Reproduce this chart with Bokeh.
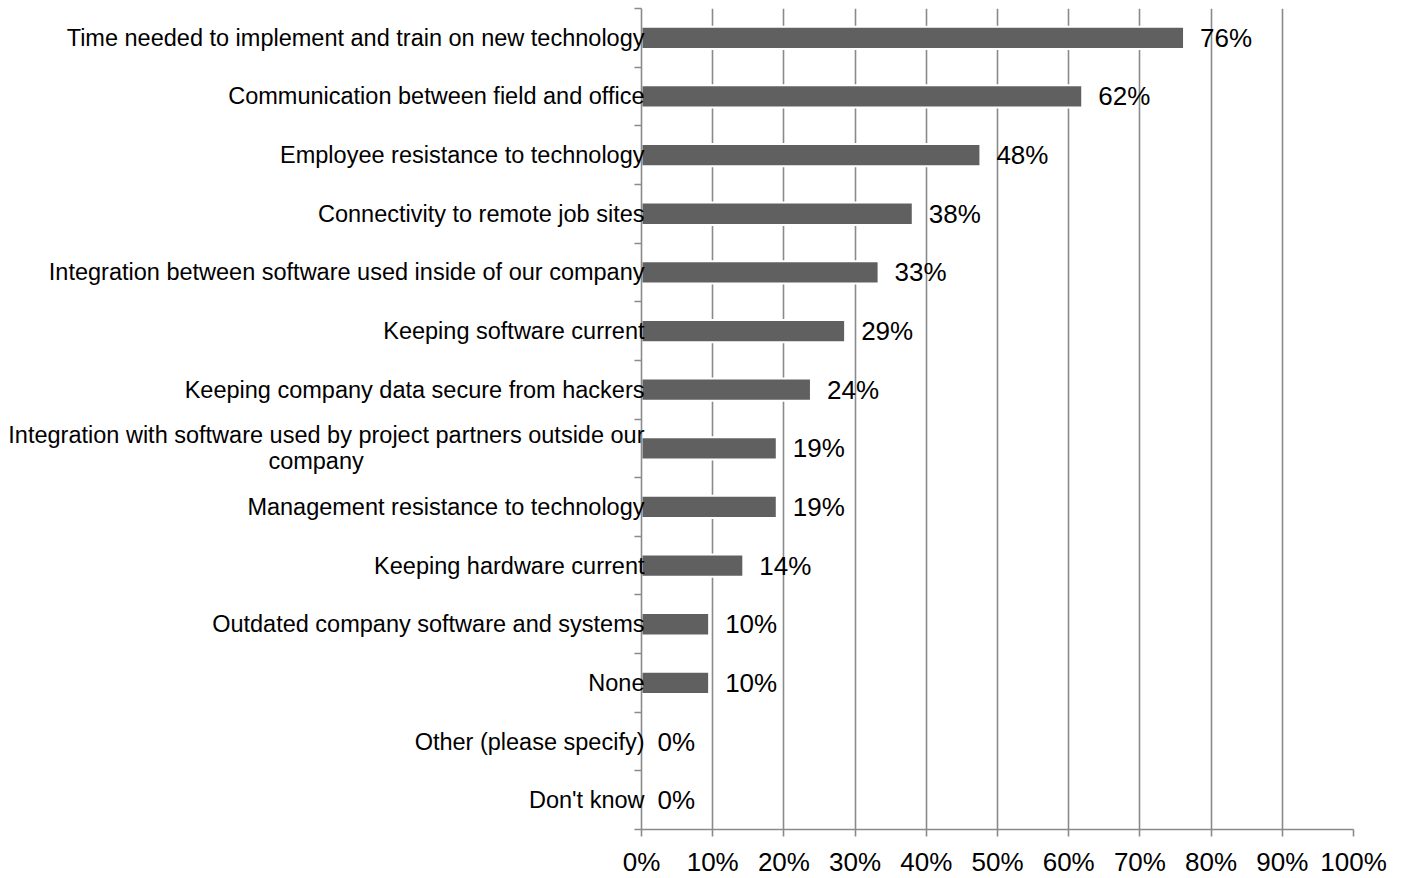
from bokeh.plotting import figure
from bokeh.models import ColumnDataSource, FixedTicker, PrintfTickFormatter, Range1d
from bokeh.core.properties import value
from bokeh.embed import file_html
from bokeh.resources import INLINE

categories = [
    "Time needed to implement and train on new technology",
    "Communication between field and office",
    "Employee resistance to technology",
    "Connectivity to remote job sites",
    "Integration between software used inside of our company",
    "Keeping software current",
    "Keeping company data secure from hackers",
    "Integration with software used by project partners outside our\ncompany" + "\u00a0" * 43,
    "Management resistance to technology",
    "Keeping hardware current",
    "Outdated company software and systems",
    "None",
    "Other (please specify)",
    "Don't know",
]
values = [76.2, 61.9, 47.6, 38.1, 33.3, 28.6, 23.8, 19.0, 19.0, 14.3, 9.5, 9.5, 0.0, 0.0]
value_labels = ["76%", "62%", "48%", "38%", "33%", "29%", "24%", "19%", "19%",
                "14%", "10%", "10%", "0%", "0%"]
x_ticks = [0, 10, 20, 30, 40, 50, 60, 70, 80, 90, 100]

n = len(categories)
y_pos = [n - i for i in range(n)]

src = ColumnDataSource(dict(y=y_pos, x=values, label=value_labels))

FONT = "Liberation Sans"
GRID = "#8a8a8a"

p = figure(frame_width=712, frame_height=821,
           x_range=Range1d(0, 100), y_range=Range1d(0.5, n + 0.5),
           output_backend="svg", toolbar_location=None,
           min_border_left=641, min_border_right=51,
           min_border_top=8, min_border_bottom=0)
p.outline_line_color = None
p.background_fill_color = "white"

p.hbar(y="y", right="x", left=0, height=0.38, source=src,
       fill_color="#606060", line_color="white", line_width=2)

p.text(x="x", y="y", text="label", source=src,
       text_font=value(FONT), text_font_size="26px", text_color="black",
       text_baseline="middle", text_align="left", x_offset=16)

# grid
p.ygrid.grid_line_color = None
p.xgrid.ticker = FixedTicker(ticks=x_ticks)
p.xgrid.grid_line_color = GRID
p.xgrid.grid_line_width = 1.6

# x axis
xa = p.xaxis[0]
xa.ticker = FixedTicker(ticks=x_ticks)
xa.formatter = PrintfTickFormatter(format="%d%%")
xa.axis_line_color = GRID
xa.axis_line_width = 1.6
xa.major_tick_line_color = GRID
xa.major_tick_line_width = 1.6
xa.major_tick_out = 7
xa.major_tick_in = 0
xa.minor_tick_line_color = None
xa.major_label_text_font = FONT
xa.major_label_text_font_size = "26px"
xa.major_label_text_color = "black"
xa.major_label_text_line_height = 1.0
xa.major_label_standoff = 10

# y axis
ya = p.yaxis[0]
ya.ticker = FixedTicker(ticks=y_pos, minor_ticks=[i + 0.5 for i in range(n + 1)])
ya.major_label_overrides = {y: c for y, c in zip(y_pos, categories)}
ya.axis_line_color = GRID
ya.axis_line_width = 1.6
ya.major_tick_out = 0
ya.major_tick_in = 0
ya.minor_tick_out = 7
ya.minor_tick_in = 0
ya.minor_tick_line_color = GRID
ya.minor_tick_line_width = 1.6
ya.major_label_text_font = FONT
ya.major_label_text_font_size = "23.5px"
ya.major_label_text_color = "black"
ya.major_label_text_line_height = 1.0
ya.major_label_standoff = -10

open("out.html", "w").write(file_html(p, INLINE))
